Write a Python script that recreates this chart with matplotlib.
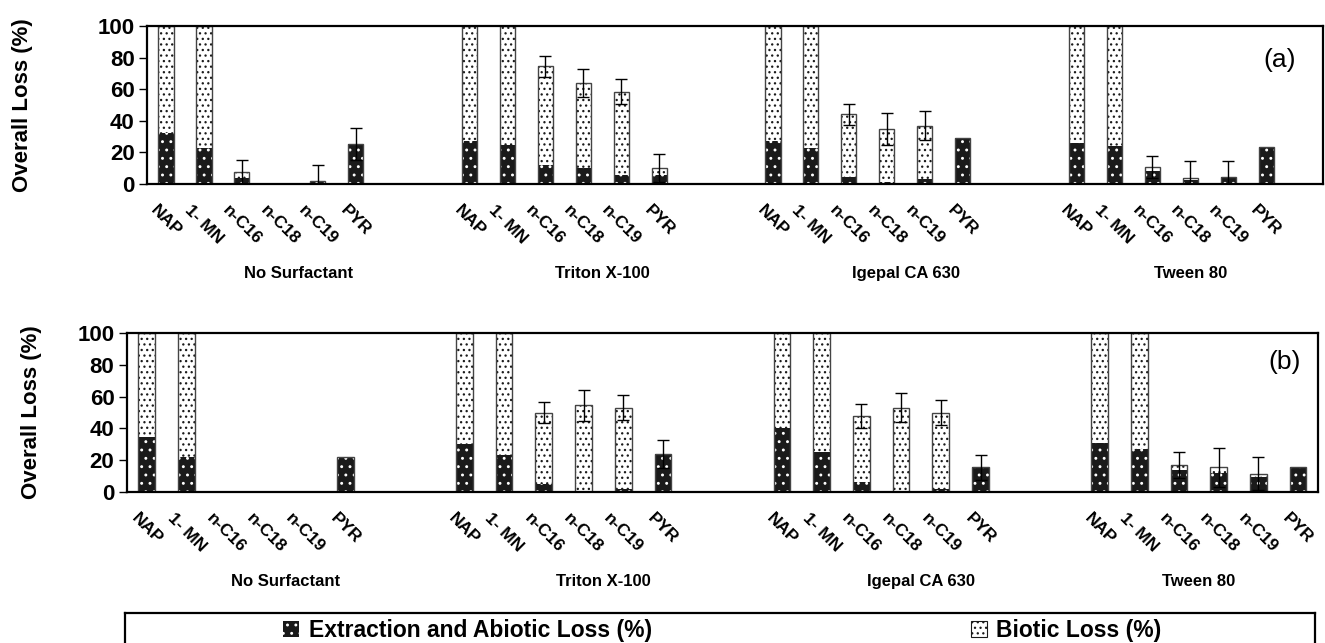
import numpy as np
import matplotlib
matplotlib.use("Agg")
import matplotlib.pyplot as plt
from matplotlib.patches import Patch
from matplotlib.transforms import blended_transform_factory

plt.rcParams["font.family"] = ["Liberation Sans", "DejaVu Sans"]
plt.rcParams["hatch.linewidth"] = 0.9

compounds = ["NAP", "1- MN", "n-C16", "n-C18", "n-C19", "PYR"]
surfactants = ["No Surfactant", "Triton X-100", "Igepal CA 630", "Tween 80"]

# panel (a) - extraction/abiotic part, overall loss, error
abiotic_a = [32, 23, 4, 0, 1.5, 25.5,
             27, 25, 12, 10, 6, 5.5,
             27, 23, 4.5, 1, 3, 29,
             26, 24, 8, 2.5, 4.5, 23.5]
total_a = [100, 100, 7.5, 0, 2, 25.5,
           100, 100, 74.5, 64, 58.5, 10,
           100, 100, 44, 35, 37, 29,
           100, 100, 11, 3.5, 4.5, 23.5]
err_a = [0, 0, 8, 0, 10, 10,
         0, 0, 6.5, 9, 8, 9,
         0, 0, 6.5, 10, 9, 0,
         0, 0, 7, 11, 10, 0]

# panel (b)
abiotic_b = [34.5, 22, 0, 0, 0, 22,
             30, 23, 5, 0.5, 2, 24,
             40.5, 25, 6.5, 0.5, 2, 15.5,
             31, 27, 14, 12, 9.5, 16]
total_b = [100, 100, 0, 0, 0, 22,
           100, 100, 50, 54.5, 53, 24,
           100, 100, 48, 53, 50, 15.5,
           100, 100, 17, 15.5, 11.5, 16]
err_b = [0, 0, 0, 0, 0, 0,
         0, 0, 6.5, 10, 8, 9,
         0, 0, 7.5, 9, 8, 8,
         0, 0, 8, 12.5, 10.5, 0]

DARK = "#1a1a1a"


def draw_panel(ax, abiotic, total, err, width, xmax, group_x, tag, tag_xy, ylab_x):
    x = np.array([g * 8 + i for g in range(len(surfactants)) for i in range(len(compounds))])
    abiotic = np.array(abiotic, dtype=float)
    total = np.array(total, dtype=float)
    err = np.array(err, dtype=float)
    biotic = total - abiotic

    # abiotic: black with white dots, biotic: white with black dots
    ax.bar(x, abiotic, width, color=DARK, edgecolor="white", hatch="..", linewidth=0)
    ax.bar(x, biotic, width, bottom=abiotic, color="white", edgecolor=DARK,
           hatch="...", linewidth=0)
    ax.bar(x, total, width, fill=False, edgecolor="#444444", linewidth=1)

    m = err > 0
    ax.errorbar(x[m], total[m], yerr=err[m], fmt="none", ecolor="black",
                elinewidth=1, capsize=4.5, capthick=1)

    ax.set_xlim(-0.5, xmax)
    ax.set_ylim(0, 100)
    ax.set_yticks(np.arange(0, 101, 20))
    ax.tick_params(axis="y", direction="out", length=6, width=1, labelsize=16, pad=3)
    for lab in ax.get_yticklabels():
        lab.set_fontweight("bold")
    ax.set_xticks(x, compounds * len(surfactants), rotation=-45, ha="center",
                  fontsize=12.5, fontweight="bold")
    ax.tick_params(axis="x", length=0, pad=13)
    for sp in ax.spines.values():
        sp.set_linewidth(1.6)

    ax.set_ylabel("Overall Loss (%)", fontsize=16, fontweight="bold")
    ax.yaxis.set_label_coords(ylab_x, 0.5)

    tr = blended_transform_factory(ax.transData, ax.transAxes)
    for gx, name in zip(group_x, surfactants):
        ax.text(gx, -0.565, name, transform=tr, ha="center", va="center",
                fontsize=12, fontweight="bold")
    ax.text(tag_xy[0], tag_xy[1], tag, transform=ax.transAxes, ha="center",
            va="center", fontsize=19)


fig = plt.figure(figsize=(13.25, 6.43), dpi=100)
ax_a = fig.add_axes([0.111, 0.7138, 0.8875, 0.2458])
ax_b = fig.add_axes([0.0958, 0.2348, 0.8989, 0.2472])

draw_panel(ax_a, abiotic_a, total_a, err_a, 0.4, 30.5, [3.5, 11.5, 19.5, 27.0],
           "(a)", (0.963, 0.785), -0.097)
draw_panel(ax_b, abiotic_b, total_b, err_b, 0.42, 29.5, [3.5, 11.5, 19.5, 26.5],
           "(b)", (0.972, 0.818), -0.071)

# legend box along the bottom
lax = fig.add_axes([0.0943, -0.02, 0.898, 0.0667])
lax.set_xticks([])
lax.set_yticks([])
for sp in lax.spines.values():
    sp.set_linewidth(1.6)

h1 = Patch(facecolor=DARK, edgecolor="white", hatch="..", linewidth=0)
h2 = Patch(facecolor="white", edgecolor=DARK, hatch="...", linewidth=0.8)
leg_kw = dict(loc="center", frameon=False, handlelength=0.7, handleheight=0.7,
              handletextpad=0.4, prop={"weight": "bold", "size": 16.5})
leg1 = lax.legend([h1], ["Extraction and Abiotic Loss (%)"],
                  bbox_to_anchor=(0.288, 0.6), **leg_kw)
lax.add_artist(leg1)
lax.legend([h2], ["Biotic Loss (%)"], bbox_to_anchor=(0.791, 0.6), **leg_kw)

fig.savefig("out.png", dpi=100)
